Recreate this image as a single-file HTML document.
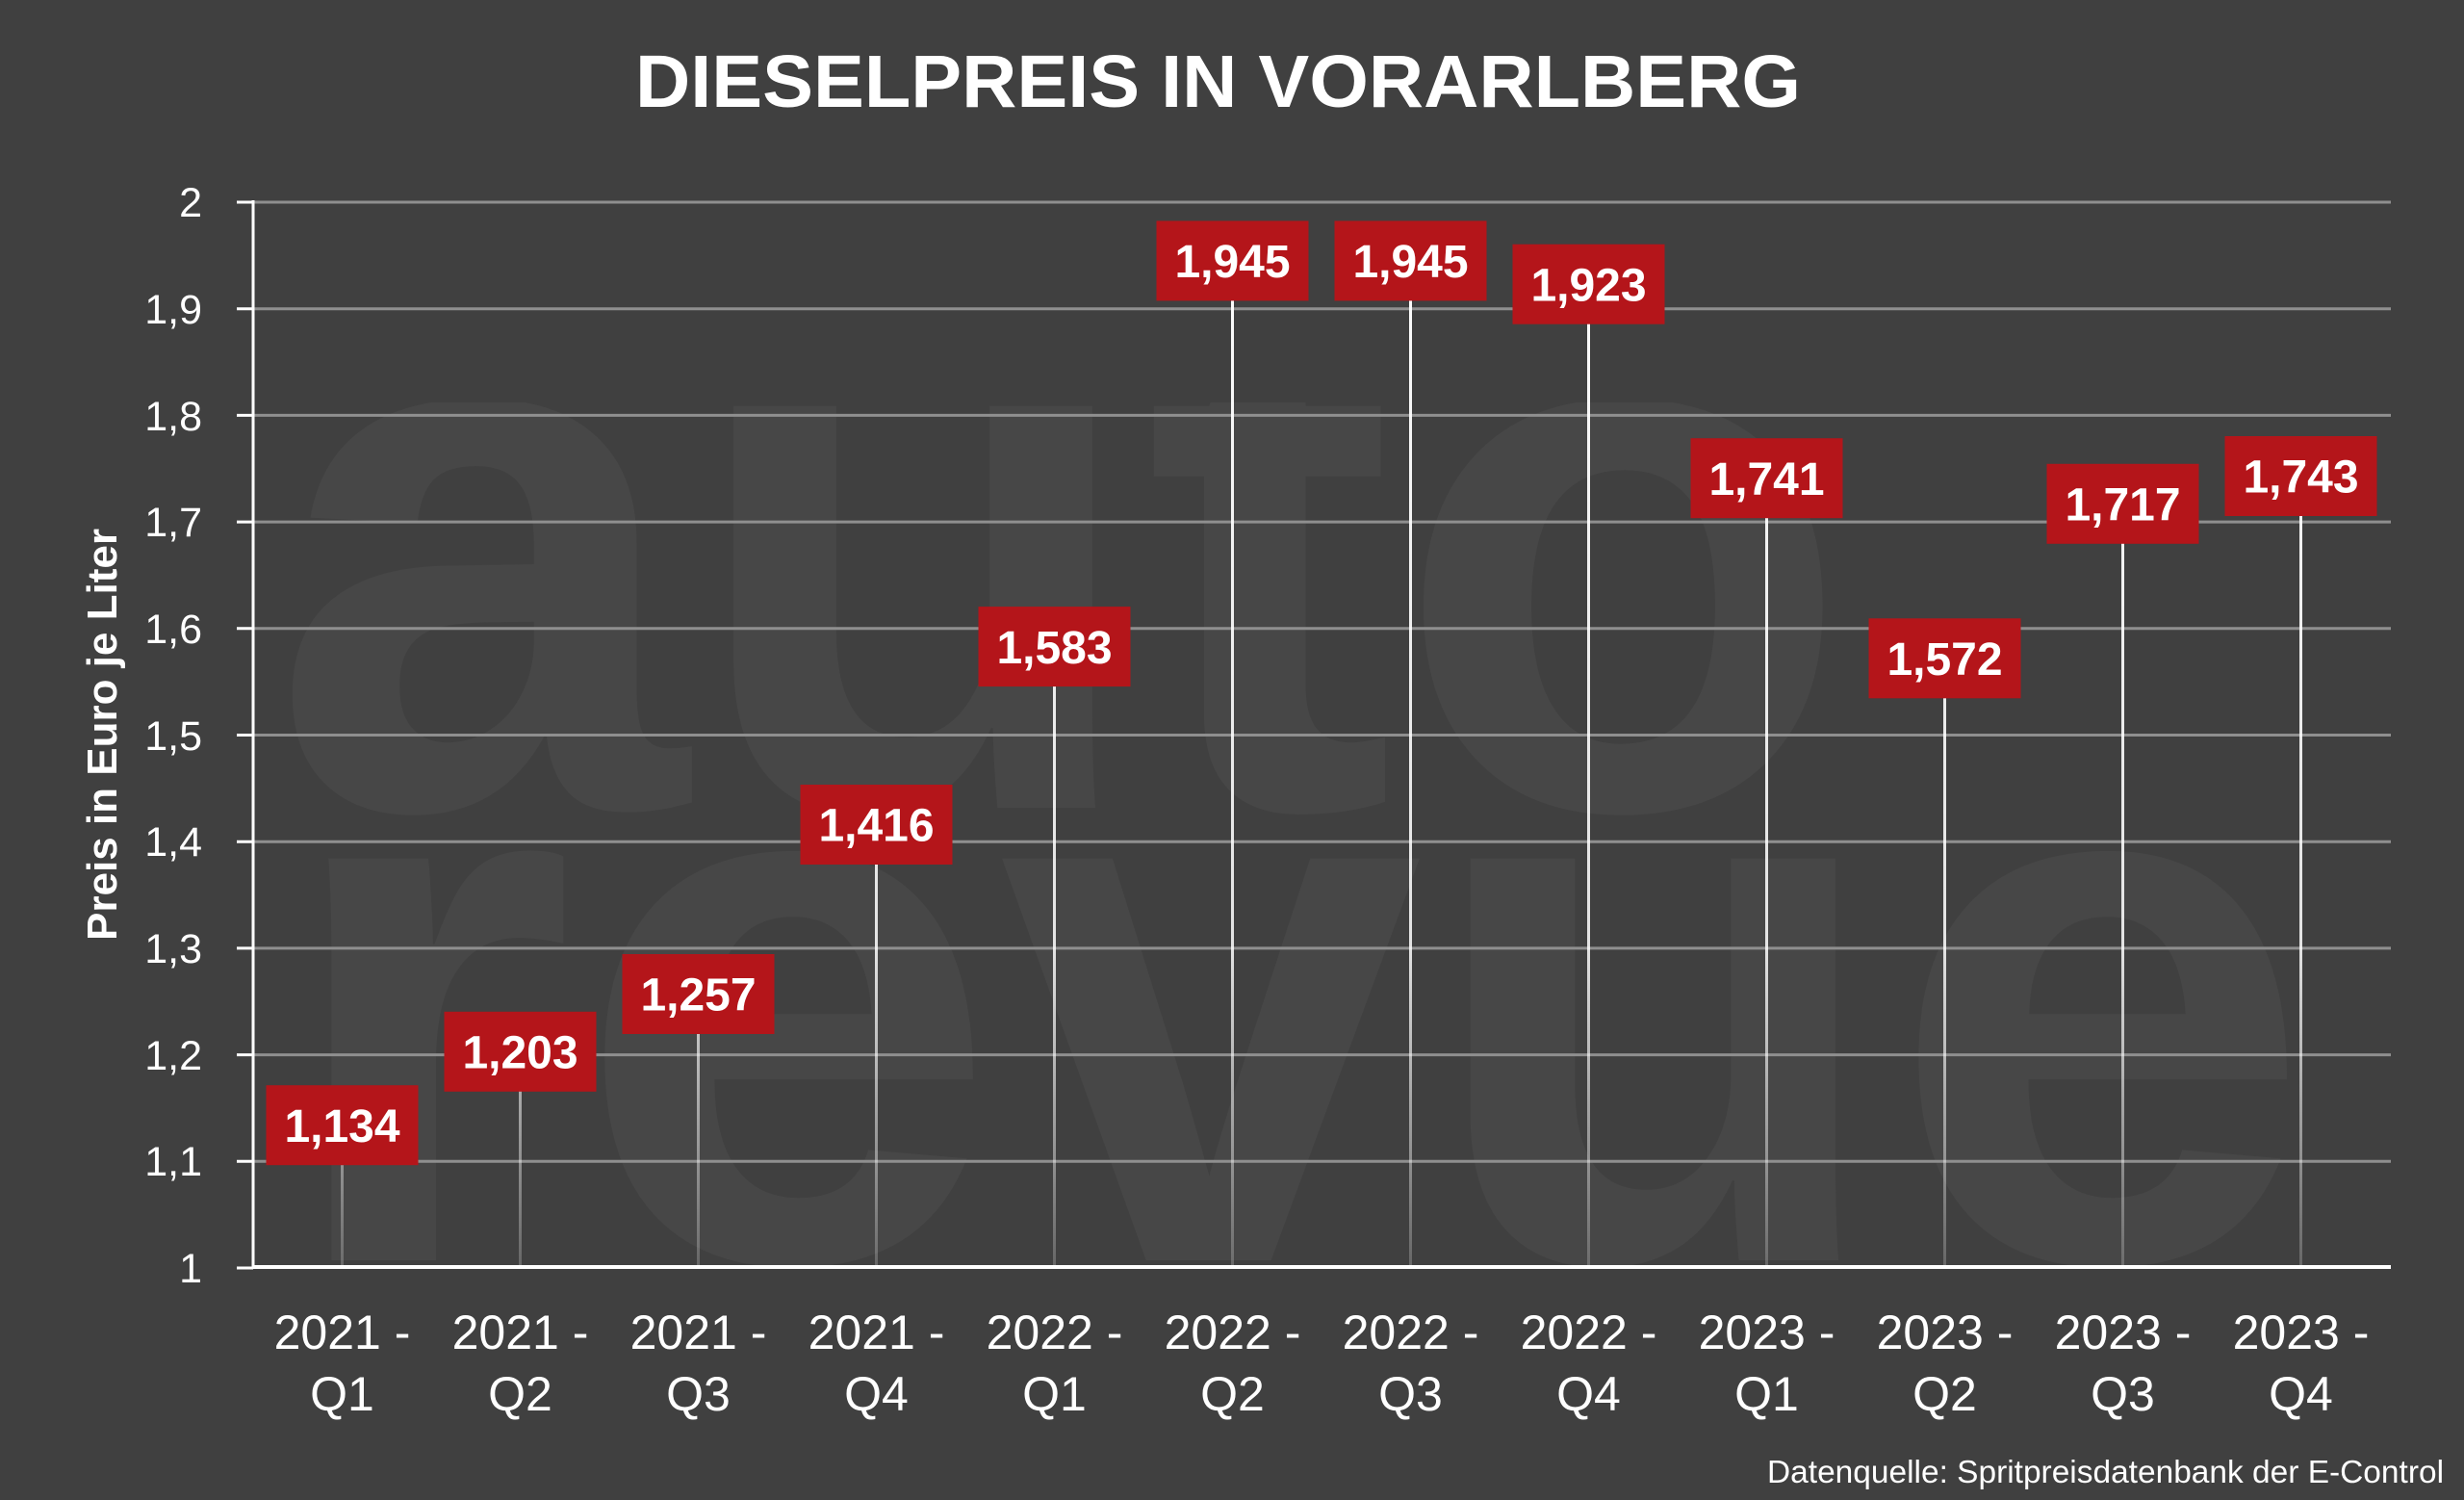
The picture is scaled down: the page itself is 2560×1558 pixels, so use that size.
<!DOCTYPE html>
<html>
<head>
<meta charset="utf-8">
<style>
  html, body { margin: 0; padding: 0; background: #404040; }
  body { width: 2560px; height: 1558px; overflow: hidden; }
  svg { display: block; }
  text { font-family: "Liberation Sans", Arial, sans-serif; }
</style>
</head>
<body>
<svg width="2560" height="1558" viewBox="0 0 2560 1558" xmlns="http://www.w3.org/2000/svg">
  <defs>
    <linearGradient id="drop" gradientUnits="userSpaceOnUse" x1="0" y1="210" x2="0" y2="1317">
      <stop offset="0" stop-color="#ffffff" stop-opacity="1"/>
      <stop offset="0.7" stop-color="#ffffff" stop-opacity="0.85"/>
      <stop offset="1" stop-color="#ffffff" stop-opacity="0.2"/>
    </linearGradient>
    <clipPath id="autoClip"><rect x="0" y="418" width="2560" height="500"/></clipPath>
  </defs>

  <rect x="0" y="0" width="2560" height="1558" fill="#404040"/>

  <!-- watermark -->
  <g fill="#474747" font-weight="bold">
    <text x="281" y="839" font-size="790" textLength="1643" lengthAdjust="spacingAndGlyphs" clip-path="url(#autoClip)">auto</text>
    <text x="289" y="1309" font-size="790" textLength="2114" lengthAdjust="spacingAndGlyphs">revue</text>
  </g>

  <!-- title -->
  <text x="660" y="111" font-size="77" font-weight="bold" fill="#ffffff" textLength="1211" lengthAdjust="spacingAndGlyphs">DIESELPREIS IN VORARLBERG</text>

  <!-- gridlines -->
  <g stroke="#8f8f8f" stroke-width="3">
    <line x1="263" y1="1206.3" x2="2484" y2="1206.3"/>
    <line x1="263" y1="1095.6" x2="2484" y2="1095.6"/>
    <line x1="263" y1="984.9" x2="2484" y2="984.9"/>
    <line x1="263" y1="874.2" x2="2484" y2="874.2"/>
    <line x1="263" y1="763.5" x2="2484" y2="763.5"/>
    <line x1="263" y1="652.8" x2="2484" y2="652.8"/>
    <line x1="263" y1="542.1" x2="2484" y2="542.1"/>
    <line x1="263" y1="431.4" x2="2484" y2="431.4"/>
    <line x1="263" y1="320.7" x2="2484" y2="320.7"/>
    <line x1="263" y1="210" x2="2484" y2="210"/>
  </g>

  <!-- y ticks -->
  <g stroke="#ffffff" stroke-width="3">
    <line x1="246" y1="1317" x2="263" y2="1317"/>
    <line x1="246" y1="1206.3" x2="263" y2="1206.3"/>
    <line x1="246" y1="1095.6" x2="263" y2="1095.6"/>
    <line x1="246" y1="984.9" x2="263" y2="984.9"/>
    <line x1="246" y1="874.2" x2="263" y2="874.2"/>
    <line x1="246" y1="763.5" x2="263" y2="763.5"/>
    <line x1="246" y1="652.8" x2="263" y2="652.8"/>
    <line x1="246" y1="542.1" x2="263" y2="542.1"/>
    <line x1="246" y1="431.4" x2="263" y2="431.4"/>
    <line x1="246" y1="320.7" x2="263" y2="320.7"/>
    <line x1="246" y1="210" x2="263" y2="210"/>
  </g>

  <!-- y axis line -->
  <line x1="263" y1="208" x2="263" y2="1318" stroke="#ffffff" stroke-width="3"/>

  <!-- y tick labels -->
  <g font-size="43" fill="#ffffff" text-anchor="end">
    <text x="210" y="1332">1</text>
    <text x="210" y="1221">1,1</text>
    <text x="210" y="1111">1,2</text>
    <text x="210" y="1000">1,3</text>
    <text x="210" y="889">1,4</text>
    <text x="210" y="779">1,5</text>
    <text x="210" y="668">1,6</text>
    <text x="210" y="557">1,7</text>
    <text x="210" y="447">1,8</text>
    <text x="210" y="336">1,9</text>
    <text x="210" y="225">2</text>
  </g>

  <!-- y axis title -->
  <text transform="translate(121,763) rotate(-90)" font-size="44" font-weight="bold" fill="#ffffff" text-anchor="middle">Preis in Euro je Liter</text>

  <!-- drop lines -->
  <g stroke="url(#drop)" stroke-width="3">
    <line x1="355.5" y1="1210" x2="355.5" y2="1314"/>
    <line x1="540.5" y1="1133" x2="540.5" y2="1314"/>
    <line x1="725.5" y1="1074" x2="725.5" y2="1314"/>
    <line x1="910.5" y1="898" x2="910.5" y2="1314"/>
    <line x1="1095.5" y1="713" x2="1095.5" y2="1314"/>
    <line x1="1280.5" y1="312" x2="1280.5" y2="1314"/>
    <line x1="1465.5" y1="312" x2="1465.5" y2="1314"/>
    <line x1="1650.5" y1="336" x2="1650.5" y2="1314"/>
    <line x1="1835.5" y1="538" x2="1835.5" y2="1314"/>
    <line x1="2020.5" y1="725" x2="2020.5" y2="1314"/>
    <line x1="2205.5" y1="564" x2="2205.5" y2="1314"/>
    <line x1="2390.5" y1="536" x2="2390.5" y2="1314"/>
  </g>

  <!-- x axis line -->
  <line x1="262" y1="1316" x2="2484" y2="1316" stroke="#ffffff" stroke-width="4"/>

  <!-- data label boxes -->
  <g fill="#b4151a">
    <rect x="276.5" y="1127.2" width="158" height="83"/>
    <rect x="461.5" y="1050.8" width="158" height="83"/>
    <rect x="646.5" y="991" width="158" height="83"/>
    <rect x="831.5" y="815" width="158" height="83"/>
    <rect x="1016.5" y="630.1" width="158" height="83"/>
    <rect x="1201.5" y="229.4" width="158" height="83"/>
    <rect x="1386.5" y="229.4" width="158" height="83"/>
    <rect x="1571.5" y="253.7" width="158" height="83"/>
    <rect x="1756.5" y="455.2" width="158" height="83"/>
    <rect x="1941.5" y="642.3" width="158" height="83"/>
    <rect x="2126.5" y="481.8" width="158" height="83"/>
    <rect x="2311.5" y="453" width="158" height="83"/>
  </g>
  <g font-size="48" font-weight="bold" fill="#ffffff" text-anchor="middle">
    <text x="355.5" y="1186">1,134</text>
    <text x="540.5" y="1109.5">1,203</text>
    <text x="725.5" y="1049.7">1,257</text>
    <text x="910.5" y="873.7">1,416</text>
    <text x="1095.5" y="688.8">1,583</text>
    <text x="1280.5" y="288.1">1,945</text>
    <text x="1465.5" y="288.1">1,945</text>
    <text x="1650.5" y="312.4">1,923</text>
    <text x="1835.5" y="513.9">1,741</text>
    <text x="2020.5" y="701">1,572</text>
    <text x="2205.5" y="540.5">1,717</text>
    <text x="2390.5" y="511.7">1,743</text>
  </g>

  <!-- x labels -->
  <g font-size="50" fill="#ffffff" text-anchor="middle">
    <text x="355.5" y="1401">2021 -</text><text x="355.5" y="1465">Q1</text>
    <text x="540.5" y="1401">2021 -</text><text x="540.5" y="1465">Q2</text>
    <text x="725.5" y="1401">2021 -</text><text x="725.5" y="1465">Q3</text>
    <text x="910.5" y="1401">2021 -</text><text x="910.5" y="1465">Q4</text>
    <text x="1095.5" y="1401">2022 -</text><text x="1095.5" y="1465">Q1</text>
    <text x="1280.5" y="1401">2022 -</text><text x="1280.5" y="1465">Q2</text>
    <text x="1465.5" y="1401">2022 -</text><text x="1465.5" y="1465">Q3</text>
    <text x="1650.5" y="1401">2022 -</text><text x="1650.5" y="1465">Q4</text>
    <text x="1835.5" y="1401">2023 -</text><text x="1835.5" y="1465">Q1</text>
    <text x="2020.5" y="1401">2023 -</text><text x="2020.5" y="1465">Q2</text>
    <text x="2205.5" y="1401">2023 -</text><text x="2205.5" y="1465">Q3</text>
    <text x="2390.5" y="1401">2023 -</text><text x="2390.5" y="1465">Q4</text>
  </g>

  <!-- source -->
  <text x="1836" y="1540" font-size="33" fill="#ffffff" textLength="703" lengthAdjust="spacingAndGlyphs">Datenquelle: Spritpreisdatenbank der E-Control</text>
</svg>
</body>
</html>
